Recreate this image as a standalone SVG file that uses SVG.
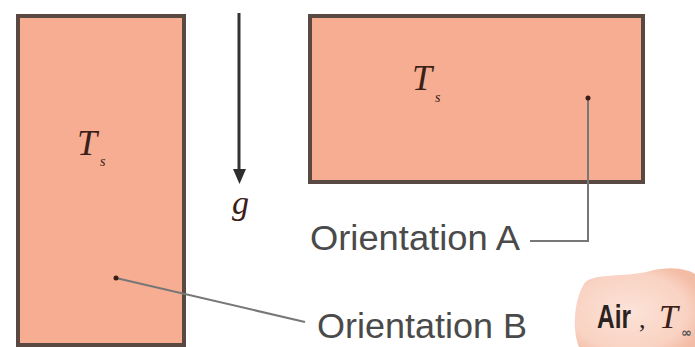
<svg xmlns="http://www.w3.org/2000/svg" width="695" height="347" viewBox="0 0 695 347">
<style>
.plate{fill:#f6ad92;stroke:#5a4843;stroke-width:4}
.lbl{font-family:"Liberation Sans",Arial,sans-serif;font-size:35px;fill:#4a4a4a}
.math{font-family:"Liberation Serif","Times New Roman",serif;font-style:italic;fill:#3a2018}
.lead{fill:none;stroke:#777;stroke-width:2}
.dot{fill:#3a1c14}
</style>
<defs>
<radialGradient id="airg" cx="0.45" cy="0.55" r="0.65">
<stop offset="0" stop-color="#fce3d8"/>
<stop offset="0.75" stop-color="#f9d2c2"/>
<stop offset="1" stop-color="#f3bca6"/>
</radialGradient>
</defs>
<g id="plateB">
<rect class="plate" x="18" y="16" width="166" height="329"/>
<text class="math" x="77" y="155" font-size="36">T</text>
<text class="math" x="100" y="166" font-size="14">s</text>
</g>
<g id="plateA">
<rect class="plate" x="310" y="16" width="333" height="166"/>
<text class="math" x="412" y="90" font-size="36">T</text>
<text class="math" x="435" y="102" font-size="14">s</text>
</g>
<g id="gravity">
<line x1="239" y1="13" x2="239" y2="172" stroke="#333" stroke-width="3"/>
<path d="M233,169 L246,169 L239.5,184 Z" fill="#2e2e2e"/>
<text class="math" x="232" y="214" font-size="34" fill="#555">g</text>
</g>
<g id="connectors">
<polyline class="lead" points="588,98 588,241 530,241"/>
<line class="lead" x1="116" y1="278" x2="305" y2="322" stroke-width="1.8"/>
<circle class="dot" cx="588" cy="98" r="2.5"/>
<circle class="dot" cx="116" cy="278" r="2.5"/>
</g>
<g id="labelA">
<text class="lbl" x="310" y="250" textLength="210" lengthAdjust="spacingAndGlyphs">Orientation A</text>
</g>
<g id="labelB">
<text class="lbl" x="317" y="338" textLength="210" lengthAdjust="spacingAndGlyphs">Orientation B</text>
</g>
<g id="air">
<path d="M584,284 C592,272 625,278 650,271 C672,265 690,270 695,274 L695,347 L579,347 C572,330 574,300 584,284 Z" fill="url(#airg)"/>
<text transform="translate(597,328) scale(0.72,1)" x="0" y="0" font-family="'Liberation Sans',Arial,sans-serif" font-weight="bold" font-size="34" fill="#2a2220">Air</text>
<text y="328" font-family="'Liberation Serif',serif" font-size="34" fill="#2a2220"><tspan x="639" font-size="26">,</tspan><tspan x="659" font-style="italic" fill="#3a2018">T</tspan><tspan x="681" y="337" font-family="'DejaVu Sans',sans-serif" font-size="13" font-weight="bold" fill="#555">∞</tspan></text>
</g>
</svg>
